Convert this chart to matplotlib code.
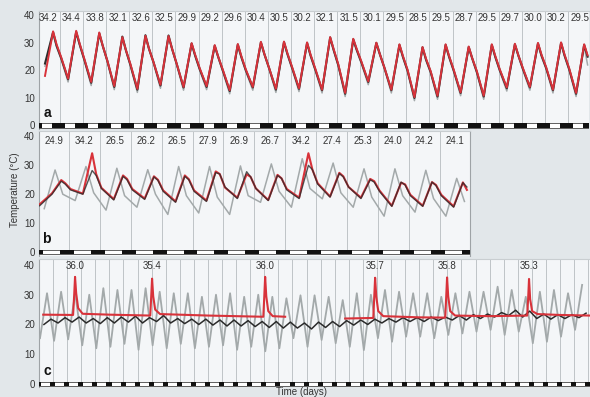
import numpy as np
import matplotlib
matplotlib.use("Agg")
import matplotlib.pyplot as plt
from matplotlib import font_manager
from matplotlib.patches import Rectangle

# ------------------------------------------------------------------ data
nan = np.nan

# Panel a : 24 days, labelled daily maxima
a_labels = [34.2, 34.4, 33.8, 32.1, 32.6, 32.5, 29.9, 29.2, 29.6, 30.4, 30.5, 30.2,
            32.1, 31.5, 30.1, 29.5, 28.5, 29.5, 28.7, 29.5, 29.7, 30.0, 30.2, 29.5]
a_phases = [0.05, 0.35, 0.70, 0.85]          # sample times within each day
a_black = [nan, 22.5, 33.9, 29.0,  24.5, 16.8, 34.0, 29.5,  24.0, 15.5, 33.5, 29.0,
           23.5, 14.0, 32.3, 27.5,  22.0, 13.0, 32.8, 28.0,  23.0, 14.5, 32.7, 28.0,
           22.5, 13.8, 29.8, 25.5,  20.5, 14.0, 29.0, 25.0,  20.0, 12.5, 29.4, 25.0,
           20.0, 13.8, 30.2, 26.0,  21.0, 13.0, 30.3, 26.0,  21.0, 13.3, 30.0, 25.5,
           20.5, 12.8, 32.0, 27.5,  22.0, 11.5, 31.3, 27.5,  23.0, 15.8, 30.0, 26.0,
           21.0, 12.8, 29.3, 25.0,  20.0, 10.0, 28.4, 24.0,  19.5, 10.5, 29.3, 25.0,
           20.0, 11.8, 28.5, 24.5,  19.5, 10.5, 29.3, 25.0,  20.0, 13.5, 29.5, 25.5,
           20.5, 13.8, 29.8, 25.5,  21.0, 12.8, 30.0, 25.5,  20.5, 11.5, 29.3, 25.0]
a_red = [nan, 18.0, 34.2, 29.5,  24.8, 17.0, 34.4, 29.8,  24.3, 15.8, 33.8, 29.0,
         23.5, 14.3, 32.1, 27.5,  22.3, 13.3, 32.6, 28.0,  23.0, 14.8, 32.5, 28.0,
         22.5, 14.0, 29.9, 25.8,  20.8, 14.3, 29.2, 25.0,  20.3, 12.8, 29.6, 25.3,
         20.3, 14.0, 30.4, 26.0,  21.0, 13.3, 30.5, 26.2,  21.3, 13.5, 30.2, 25.8,
         20.8, 13.0, 32.1, 27.8,  22.3, 11.8, 31.5, 27.8,  23.3, 16.0, 30.1, 26.0,
         21.0, 13.0, 29.5, 25.3,  20.3, 10.3, 28.5, 24.3,  19.8, 10.8, 29.5, 25.3,
         20.3, 12.0, 28.7, 24.5,  19.8, 10.8, 29.5, 25.3,  20.3, 13.8, 29.7, 25.5,
         20.8, 14.0, 30.0, 25.8,  21.3, 13.0, 30.2, 25.8,  20.8, 11.8, 29.5, 25.5]
a_grey = [nan, 21.5, 33.3, 28.5,  24.0, 15.8, 33.6, 29.0,  23.5, 14.5, 33.0, 28.5,
          23.0, 13.0, 31.6, 27.0,  21.5, 12.0, 32.0, 27.5,  22.5, 13.5, 31.9, 27.5,
          22.0, 12.8, 29.2, 25.0,  20.0, 13.0, 28.5, 24.5,  19.5, 11.5, 28.8, 24.5,
          19.5, 12.8, 29.6, 25.5,  20.5, 12.0, 29.8, 25.5,  20.5, 12.3, 29.5, 25.0,
          20.0, 11.8, 31.4, 27.0,  21.5, 10.5, 30.8, 27.0,  22.5, 14.8, 29.4, 25.5,
          20.5, 11.8, 28.8, 24.5,  19.5, 9.0, 27.9, 23.5,  19.0, 9.5, 28.8, 24.5,
          19.5, 10.8, 28.0, 24.0,  19.0, 9.5, 28.8, 24.5,  19.5, 12.5, 29.0, 25.0,
          20.0, 12.8, 29.3, 25.0,  20.5, 11.8, 29.5, 25.0,  20.0, 10.5, 28.8, 22.0]

# Panel b : 14 days
b_labels = [24.9, 34.2, 26.5, 26.2, 26.5, 27.9, 26.9, 26.7, 34.2, 27.4, 25.3, 24.0, 24.2, 24.1]
b_phases = [0.05, 0.45, 0.75, 0.88]
b_black = [16.0, 20.0, 24.5, 23.5,  21.5, 20.0, 28.2, 26.5,  22.0, 18.0, 26.2, 25.0,
           21.5, 18.2, 26.0, 24.8,  21.0, 17.2, 26.2, 25.0,  21.0, 17.5, 27.5, 27.0,
           22.5, 18.5, 27.8, 26.0,  22.0, 17.8, 26.5, 25.5,  21.5, 18.5, 30.0, 28.5,
           23.5, 19.0, 27.2, 26.0,  22.5, 18.5, 25.0, 24.2,  21.0, 15.8, 24.2, 23.2,
           19.5, 15.8, 24.2, 23.0,  19.5, 15.5, 24.0, 22.5]
b_red = [16.5, 20.3, 24.9, 23.8,  21.8, 20.2, 34.2, 27.0,  22.2, 18.3, 26.5, 25.3,
         21.8, 18.5, 26.2, 25.0,  21.3, 17.5, 26.5, 25.2,  21.3, 17.8, 27.9, 27.0,
         22.3, 18.8, 26.9, 26.0,  22.0, 18.0, 26.7, 25.5,  21.8, 18.8, 34.2, 28.5,
         23.8, 19.2, 27.4, 26.2,  22.5, 18.8, 25.3, 24.5,  21.3, 16.0, 24.0, 23.4,
         19.8, 16.0, 24.2, 23.2,  19.8, 15.8, 24.1, 21.5]
b_grey_phases = [0.20, 0.55, 0.80]
b_grey_trough = [15.0, 17.8, 14.5, 15.5, 13.0, 13.5, 13.0, 17.2, 15.5, 18.4, 15.5, 12.4, 13.8, 12.4]
b_grey_peak = [28.4, 29.6, 29.0, 28.5, 29.6, 29.6, 29.8, 30.5, 32.3, 30.8, 28.8, 28.8, 28.3, 25.5]
b_grey_fall = [20.0, 20.5, 19.5, 20.0, 19.5, 19.0, 19.5, 21.0, 22.0, 20.5, 19.0, 19.5, 18.5, 17.5]

# Panel c : 39 days
c_grey_phases = [0.07, 0.57]
c_grey_trough = [15.4, 14.5, 15.0, 13.0, 12.0, 12.5, 13.5, 11.5, 13.0, 12.0, 13.5, 12.0, 12.5,
                 13.0, 11.5, 12.5, 11.0, 12.0, 15.4, 12.5, 14.8, 13.7, 12.5, 11.4, 15.4, 14.2,
                 15.9, 15.9, 15.4, 16.5, 17.0, 17.6, 18.2, 16.5, 17.6, 13.7, 14.2, 15.9, 18.2]
c_grey_peak = [30.5, 31.0, 30.5, 30.0, 32.2, 31.6, 31.6, 32.2, 31.0, 30.5, 30.5, 29.3, 30.0,
               30.5, 29.3, 30.0, 29.3, 28.8, 29.8, 29.8, 29.3, 28.2, 30.5, 30.0, 31.6, 31.0,
               30.5, 30.5, 29.3, 30.5, 31.0, 31.0, 32.7, 31.6, 29.3, 31.0, 31.6, 30.5, 33.3]
c_black_phases = [0.35, 0.85]
c_black_trough = [20.0, 20.5, 20.8, 20.5, 20.3, 20.5, 20.8, 20.5, 21.0, 20.5, 20.3, 20.0, 19.8,
                  19.5, 19.5, 19.3, 19.0, 18.8, 18.8, 18.5, 19.0, 19.3, 19.8, 20.0, 20.5, 20.8,
                  21.0, 21.0, 21.3, 21.5, 21.5, 22.0, 22.5, 23.0, 22.5, 22.0, 21.8, 22.0, 22.3]
c_black_peak = [21.8, 22.3, 22.5, 22.0, 22.3, 22.5, 22.8, 22.3, 23.0, 22.0, 21.8, 21.8, 21.5,
                21.5, 21.3, 21.0, 21.0, 20.8, 20.5, 20.8, 21.0, 21.3, 21.5, 21.8, 22.0, 22.3,
                22.3, 22.5, 22.5, 23.0, 23.3, 23.5, 24.0, 24.8, 24.5, 23.5, 23.3, 23.3, 23.8]
c_red_t = [0.3, 2.42, 2.5, 2.56, 2.64, 2.78, 3.1, 5.0, 7.9, 7.97, 8.03, 8.11, 8.25, 8.6, 12.0,
           15.93, 16.0, 16.06, 16.14, 16.28, 16.6, 17.48, nan, 21.74, 23.74, 23.81, 23.87,
           23.95, 24.09, 24.45, 27.0, 28.85, 28.92, 28.98, 29.06, 29.2, 29.55, 32.0, 34.67,
           34.74, 34.8, 34.88, 35.02, 35.4, 37.0, 39.1]
c_red_v = [23.3, 23.2, 30.0, 36.0, 30.5, 25.5, 23.6, 23.3, 23.0, 29.5, 35.4, 29.5, 25.0, 23.5,
           23.0, 22.6, 29.5, 36.0, 29.5, 24.5, 22.8, 22.6, nan, 22.0, 22.2, 29.5, 35.7, 29.5,
           24.5, 22.8, 22.4, 22.3, 29.5, 35.8, 29.5, 24.5, 23.0, 22.8, 23.0, 29.0, 35.3, 28.5,
           24.5, 23.5, 23.2, 23.0]
c_peak_days = [2.56, 8.03, 16.06, 23.87, 28.98, 34.8]
c_peak_labels = [36.0, 35.4, 36.0, 35.7, 35.8, 35.3]

# ------------------------------------------------------------------ style
names = {f.name for f in font_manager.fontManager.ttflist}
if 'Liberation Sans Narrow' in names:
    FONT, FS = 'Liberation Sans Narrow', 8
else:
    FONT, FS = 'Liberation Sans', 7
plt.rcParams['font.family'] = [FONT, 'DejaVu Sans']

TXT = '#333333'
RED = '#d8323a'
BLK = '#2b2b2b'
GRY = '#a3a9aa'
VLINE = '#bfc4c7'

W, H = 590, 397
fig = plt.figure(figsize=(W / 100, H / 100), dpi=100, facecolor='#e2e7ea')


def add_axes(l, r, t, b):
    return fig.add_axes([l / W, 1 - b / H, (r - l) / W, (b - t) / H])


def sample(values, phases):
    v = np.asarray(values, float)
    n = len(v) // len(phases)
    t = (np.arange(n)[:, None] + np.asarray(phases)[None, :]).ravel()
    return t, v


def interleave(phases, *arrays):
    n = len(arrays[0])
    t = (np.arange(n)[:, None] + np.asarray(phases)[None, :]).ravel()
    v = np.column_stack([np.asarray(a, float) for a in arrays]).ravel()
    return t, v


def setup(ax, xlim, ylim, ndays, night, barh, letter, right_spine=False):
    ax.set_facecolor('#f4f6f8')
    ax.set_xlim(*xlim)
    ax.set_ylim(*ylim)
    ax.set_xticks([])
    ax.set_yticks([0, 10, 20, 30, 40])
    ax.tick_params(axis='y', length=0, pad=3, labelsize=FS, labelcolor=TXT)
    for s in ['bottom', 'right']:
        ax.spines[s].set_visible(False)
    ax.spines['left'].set_color('#9ea3a6')
    ax.spines['left'].set_linewidth(0.8)
    ax.spines['top'].set_color('#c9ced1')
    ax.spines['top'].set_linewidth(0.8)
    if right_spine:
        ax.spines['right'].set_visible(True)
        ax.spines['right'].set_color('#9ea3a6')
        ax.spines['right'].set_linewidth(0.8)
    ax.vlines(np.arange(1, ndays + 1), barh, ylim[1], color=VLINE, lw=0.7, zorder=1)
    # light/dark bar
    ax.add_patch(Rectangle((xlim[0], -barh), xlim[1] - xlim[0], 2 * barh,
                           facecolor='white', edgecolor='#222222', lw=0.5, zorder=4))
    for d in range(0, ndays + 2):
        x0 = max(d + night[0], xlim[0])
        x1 = min(d + night[1], xlim[1])
        if x1 > x0:
            ax.add_patch(Rectangle((x0, -barh), x1 - x0, 2 * barh,
                                   facecolor='#111111', edgecolor='none', zorder=5))
    ax.text(0.008, 4.5, letter, transform=ax.get_yaxis_transform(), fontsize=FS + 3,
            fontweight='bold', color='#111111', ha='left', va='center', zorder=6)


# ---- panel a
ax_a = add_axes(39, 589, 11, 129)
setup(ax_a, (0.09, 23.91), (-1.3, 41.6), 23, (-0.35, 0.22), 0.9, 'a')
for vals, col, lw in [(a_grey, GRY, 1.1), (a_black, BLK, 1.5), (a_red, RED, 1.4)]:
    t, v = sample(vals, a_phases)
    ax_a.plot(t, v, color=col, lw=lw, zorder=3, solid_joinstyle='round')
for k, lab in enumerate(a_labels):
    ax_a.text(k + 0.5, 39.0, f'{lab:.1f}', ha='center', va='center', fontsize=FS, color=TXT)

# ---- panel b
ax_b = add_axes(39, 470, 131, 256)
setup(ax_b, (0.03, 13.98), (-1.4, 41.9), 13, (-0.29, 0.16), 0.85, 'b', right_spine=True)
t, v = interleave(b_grey_phases, b_grey_trough, b_grey_peak, b_grey_fall)
ax_b.plot(t, v, color=GRY, lw=1.1, zorder=3, solid_joinstyle='round')
t, v = sample(b_red, b_phases)
ax_b.plot(t, v, color=RED, lw=1.5, zorder=3, solid_joinstyle='round')
t, v = sample(b_black, b_phases)
ax_b.plot(t, v, color=BLK, lw=1.0, zorder=3, alpha=0.8, solid_joinstyle='round')
for k, lab in enumerate(b_labels):
    ax_b.text(k + 0.5, 38.3, f'{lab:.1f}', ha='center', va='center', fontsize=FS, color=TXT)

# ---- panel c
ax_c = add_axes(39, 590, 259, 387)
setup(ax_c, (0.0, 39.13), (-1.0, 42.0), 39, (-0.21, 0.15), 0.8, 'c')
t, v = interleave(c_grey_phases, c_grey_trough, c_grey_peak)
ax_c.plot(t, v, color=GRY, lw=1.3, zorder=3, solid_joinstyle='round')
t, v = interleave(c_black_phases, c_black_trough, c_black_peak)
ax_c.plot(t, v, color=BLK, lw=1.1, zorder=3)
ax_c.plot(c_red_t, c_red_v, color=RED, lw=1.5, zorder=3, solid_joinstyle='round')
for d, lab in zip(c_peak_days, c_peak_labels):
    ax_c.text(d, 39.8, f'{lab:.1f}', ha='center', va='center', fontsize=FS, color=TXT)

fig.text(15 / W, 1 - 190 / H, 'Temperature (°C)', rotation=90, ha='center', va='center',
         fontsize=FS, color=TXT)
fig.text(302 / W, 1 - 392 / H, 'Time (days)', ha='center', va='center', fontsize=FS, color=TXT)

fig.savefig('out.png', dpi=100, facecolor=fig.get_facecolor())
